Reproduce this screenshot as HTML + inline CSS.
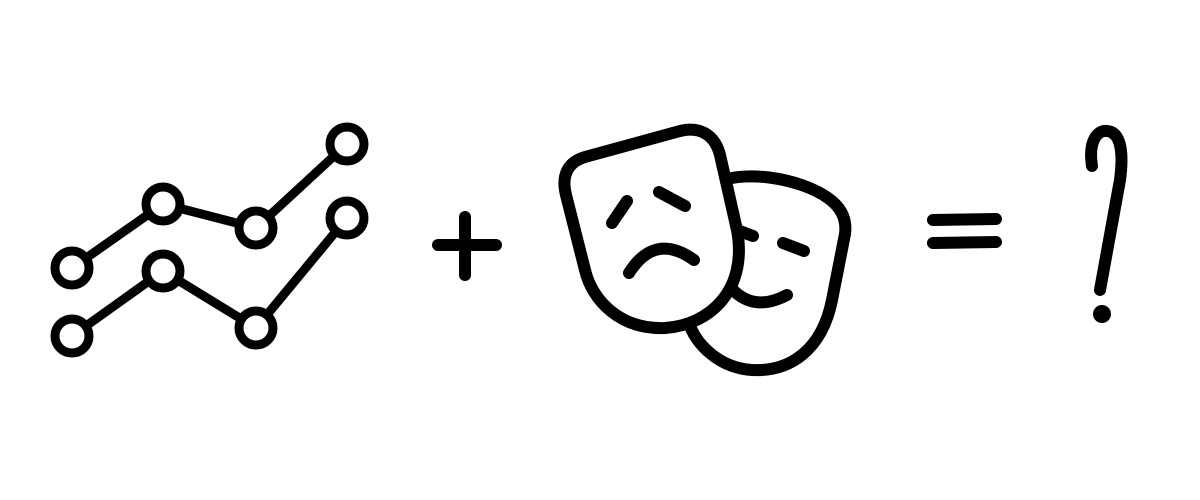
<!DOCTYPE html>
<html><head><meta charset="utf-8"><style>html,body{margin:0;padding:0;background:#fff}svg{display:block}</style></head>
<body>
<svg id="s" width="1200" height="500" viewBox="0 0 1200 500">
<g id="chart" fill="#fff" stroke="#000" stroke-width="9" stroke-linecap="round" stroke-linejoin="round"></g>
<g stroke="#000" stroke-width="12" stroke-linecap="round">
<line x1="438" y1="245" x2="496" y2="245"/><line x1="465" y1="217" x2="465" y2="275"/></g>
<g stroke="#000" stroke-width="12" stroke-linecap="round" stroke-linejoin="round" fill="#fff">
<path d="M 712,185 C 740,168 800,178 828,198 Q 848,212 845,234 L 832,300 C 822,350 790,372 752,370 C 720,368 695,345 688,320 L 700,200 Z"/>
<line x1="737" y1="230" x2="753" y2="236"/><line x1="783" y1="243" x2="804" y2="251"/>
<path d="M 733,290 Q 755,312 787,295" fill="none"/>
<path d="M 585,157 L 680,131 C 700,126 715,135 720,155 L 737,230 C 748,290 710,325 665,328 C 620,330 592,300 585,270 L 566,195 C 561,175 568,162 585,157 Z"/>
<line x1="612" y1="223" x2="627" y2="201"/><line x1="659" y1="192" x2="685" y2="206"/>
<path d="M 629,273 Q 655,232 694,260" fill="none"/>
</g>
<g stroke="#000" stroke-width="12" stroke-linecap="round">
<line x1="933" y1="220" x2="996" y2="219"/><line x1="933" y1="243" x2="996" y2="242"/></g>
<g>
<path d="M 1092,166 C 1088,140 1098,130 1107,131 C 1120,132 1124,150 1120,180 L 1100,290" fill="none" stroke="#000" stroke-width="12" stroke-linecap="round"/>
<circle cx="1102" cy="314" r="9" fill="#000"/></g>
</svg>
<script>
const xs=[72,163,256,347];
const seriesA=[268,204,228,144];
const seriesB=[336,271,328,218];
const g=document.getElementById('chart');
const NS='http://www.w3.org/2000/svg';
[seriesA,seriesB].forEach((ser,si)=>{
  const pl=document.createElementNS(NS,'polyline');
  pl.setAttribute('points',ser.map((v,i)=>xs[i]+','+v).join(' '));
  pl.setAttribute('fill','none');
  
  
  g.appendChild(pl);
});
[seriesA,seriesB].forEach((ser,si)=>{
  ser.forEach((v,i)=>{
    const c=document.createElementNS(NS,'circle');
    c.setAttribute('cx',xs[i]);c.setAttribute('cy',v);c.setAttribute('r',17);
    
    
    g.appendChild(c);
  });
});
</script>
</body></html>
